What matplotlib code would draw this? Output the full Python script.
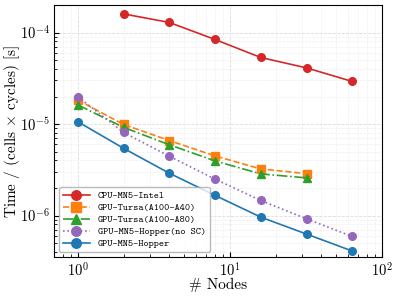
import matplotlib
matplotlib.use('Agg')
import matplotlib.pyplot as plt

# data
nodes = [1, 2, 4, 8, 16, 32, 64]
intel_nodes = [2, 4, 8, 16, 32, 64]
intel = [1.60e-4, 1.29e-4, 8.4e-5, 5.34e-5, 4.11e-5, 2.92e-5]
tursa_nodes = [1, 2, 4, 8, 16, 32]
tursa_a40 = [1.83e-5, 9.9e-6, 6.6e-6, 4.48e-6, 3.23e-6, 2.87e-6]
tursa_a80 = [1.62e-5, 9.2e-6, 5.94e-6, 3.95e-6, 2.85e-6, 2.58e-6]
hopper_nosc = [1.99e-5, 8.1e-6, 4.45e-6, 2.5e-6, 1.46e-6, 9.2e-7, 5.9e-7]
hopper = [1.06e-5, 5.43e-6, 2.9e-6, 1.66e-6, 9.6e-7, 6.27e-7, 4.09e-7]

plt.rcParams['font.family'] = 'serif'
plt.rcParams['font.serif'] = ['cmr10']
plt.rcParams['mathtext.fontset'] = 'cm'
plt.rcParams['axes.formatter.use_mathtext'] = True
plt.rcParams['axes.unicode_minus'] = False

fig = plt.figure(figsize=(3.96, 2.96), dpi=100)
ax = fig.add_axes([0.137, 0.131, 0.827, 0.852])

ax.plot(intel_nodes, intel, '-o', color='#d62728', lw=1.2, ms=5.5, label='CPU-MN5-Intel')
ax.plot(tursa_nodes, tursa_a40, '--s', color='#ff7f0e', lw=1.2, ms=5.5, label='GPU-Tursa(A100-A40)')
ax.plot(tursa_nodes, tursa_a80, '-.^', color='#2ca02c', lw=1.2, ms=5.5, label='GPU-Tursa(A100-A80)')
ax.plot(nodes, hopper_nosc, ':o', color='#9467bd', lw=1.2, ms=5.5, label='GPU-MN5-Hopper(no SC)')
ax.plot(nodes, hopper, '-o', color='#1f77b4', lw=1.2, ms=5.5, label='GPU-MN5-Hopper')

ax.set_xscale('log')
ax.set_yscale('log')
ax.set_xlim(0.7, 100)
ax.set_ylim(3.5e-7, 2e-4)

ax.grid(True, which='major', ls='--', lw=0.6, color='#dddddd')
ax.grid(True, which='minor', ls='--', lw=0.5, color='#eeeeee')
ax.tick_params(which='both', direction='in', labelsize=10.5, pad=3)

ax.set_xlabel('# Nodes', fontsize=11, labelpad=-1)
ax.set_ylabel(r'Time / (cells $\times$ cycles) [s]', fontsize=11)
ax.yaxis.set_label_coords(-0.1, 0.5)

ax.legend(loc='lower left', prop={'family': 'cmtt10', 'size': 7.1},
          frameon=True, edgecolor='#aaaaaa', framealpha=0.8,
          handlelength=2.7, labelspacing=0.32, markerscale=1.25)

fig.savefig('out.png', dpi=100)
